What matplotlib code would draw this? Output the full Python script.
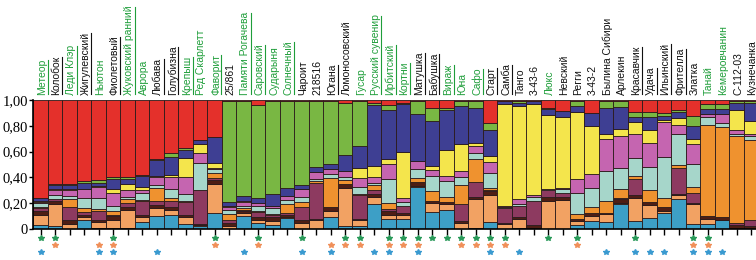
import matplotlib
matplotlib.use("Agg")
import matplotlib.pyplot as plt
import numpy as np
from matplotlib import font_manager
from matplotlib.lines import Line2D

names = ["Метеор", "Колобок", "Леди Клэр", "Жигулевский", "Ньютон", "Фиолетовый",
         "Жуковский ранний", "Аврора", "Любава", "Голубизна", "Крепыш", "Ред Скарлетт",
         "Фаворит", "25/861", "Памяти Рогачева", "Саровский", "Сударыня", "Солнечный",
         "Чароит", "218516", "Югана", "Ломоносовский", "Гусар", "Русский сувенир",
         "Ирбитский", "Кортни", "Матушка", "Бабушка", "Вираж", "Юна", "Сафо", "Старт",
         "Самба", "Танго", "3-43-6", "Люкс", "Невский", "Регги", "3-43-2",
         "Былина Сибири", "Арлекин", "Красавчик", "Удача", "Ильинский", "Фрителла",
         "Златка", "Танай", "Кемеровчанин", "С-112-03", "Кузнечанка"]

# 1 = green label
green_label = [1, 0, 1, 0, 1, 0, 1, 1, 0, 0, 1, 1, 1, 0, 1, 1, 1, 1, 0, 0,
               0, 0, 1, 1, 1, 1, 0, 0, 1, 1, 1, 0, 0, 0, 0, 1, 0, 0, 0, 0,
               0, 0, 0, 0, 0, 0, 1, 1, 0, 0]
underlined = [1, 1, 1, 1, 0, 1, 1, 0, 1, 1, 1, 0, 1, 0, 1, 1, 0, 1, 0, 0,
              1, 0, 0, 1, 1, 1, 1, 1, 1, 0, 1, 1, 1, 0, 0, 0, 0, 0, 0, 0,
              0, 1, 1, 1, 1, 0, 0, 0, 0, 1]

# cluster memberships (bottom to top)
teal = [.03, .02, 0, .07, .01, .01, .01, .05, .10, .11, .04, .02, .12, 0, .10, .05, .03, .08, 0, 0,
        .09, .02, .02, .19, .08, .08, .32, .13, .15, 0, .01, .05, 0, .01, 0, 0, 0, .03, .06, .05,
        .19, .06, .08, .12, .23, .04, .04, .07, 0, 0]
salmon = [.08, .17, .04, .02, .04, .06, .14, .04, .06, .04, .05, .01, .22, .02, .02, .02, .03, .01, .05, .07,
          .05, .30, .05, .06, .03, .03, .01, .07, .04, .05, .22, .20, .04, .07, .01, .22, .22, .03, .04, .06,
          .01, .18, .10, .02, .03, .15, .04, 0, 0, 0]
brown = [.03, .03, .03, .02, .02, .03, .02, .02, .02, .02, .02, .01, .03, .03, .02, .02, .03, .02, .02, .01,
         .03, .03, .01, .02, .03, .01, .03, .01, .02, .01, .01, .03, .01, .01, .02, .03, .02, .02, .02, .01,
         .03, .02, .02, .03, .01, .01, .02, .02, .03, .02]
maroon = [.02, .01, .10, .02, .07, .01, .03, .10, .03, .05, .10, .26, .01, .02, .01, .04, .02, .01, .10, .28,
          0, 0, .18, .03, .01, .06, 0, 0, 0, .13, .12, .01, .11, .09, .19, .05, .03, 0, 0, 0,
          .01, .13, 0, 0, .20, .08, 0, 0, .02, .05]
orange = [.01, 0, .06, .03, .01, .03, .03, .01, .10, .02, .01, 0, .04, .05, .01, .01, .01, .07, .04, .01,
          .22, .03, .01, .04, .05, 0, .03, .08, .04, .15, .17, .01, 0, 0, 0, 0, 0, .04, .05, .09,
          .07, .02, .09, .07, .03, .04, .70, .70, .67, .62]
cyan = [.03, .03, .02, .08, .09, .04, .02, .05, .02, .07, .05, .21, .03, .03, .02, .04, .04, .03, .04, .02,
        .03, .02, .05, .02, .18, .03, .07, .11, .12, .06, .05, .11, .01, .01, .03, .01, .03, .16, .14, .22,
        .16, .14, .17, .31, .24, .18, .06, .03, .02, .03]
pink = [.01, .04, .05, .07, .08, .10, .05, .03, .06, .09, .13, .07, .01, .02, .03, .02, .02, .03, .06, .05,
        .04, .05, .07, .04, .12, .03, .06, .05, .04, .05, .05, .08, .01, .04, .01, 0, .01, .11, .11, .24,
        .24, .19, .18, .27, .07, .15, .02, .07, .03, .02]
yellow = [.005, .01, .005, 0, .005, .03, .05, .02, .01, .02, .15, .07, .04, .01, .005, .005, 0, 0, 0, 0,
          0, 0, .08, .09, .04, .35, 0, .03, .20, .21, .02, .05, .79, .72, .71, .57, .53, .52, .36, .04,
          .06, .09, .10, .02, .05, .04, 0, 0, .15, .10]
navy = [.025, .03, .03, .05, .03, .08, .04, .08, .12, .14, .06, .03, .19, .03, .04, .04, .09, .06, .03, .04,
        .04, .12, .17, .47, .37, .37, .36, .34, .31, .29, .27, .19, .02, .03, .02, .05, .05, .04, .10, .19,
        .17, .04, .09, .03, .05, .10, .04, .04, .06, .14]
green = [.005, .005, .005, .01, .02, .01, .01, .01, .01, .03, .02, 0, 0, .78, .73, .72, .72, .66, .65, .51,
         .48, .41, .34, .02, .04, .01, .10, .10, .02, .04, .05, .05, 0, .01, 0, .01, 0, .04, 0, .05,
         .04, .04, .04, .02, .01, .08, .04, .04, .01, .01]
red = [.76, .655, .64, .63, .61, .60, .60, .57, .44, .41, .37, .31, .28, .01, .01, .04, .01, .01, .01, .01,
       .01, .02, .01, .02, .04, .02, .01, .06, .06, .01, .01, .17, .01, .01, .01, .06, .08, .01, .10, .01,
       .01, .09, .09, .10, .08, .12, .03, .03, .01, .01]

clusters = [teal, salmon, brown, maroon, orange, cyan, pink, yellow, navy, green, red]
colors = ["#3d9fc6", "#f2a263", "#4e1e14", "#8d3a60", "#ef922f", "#a6d6ca",
          "#c565b0", "#f4e54c", "#3e3f93", "#79b743", "#e4302b"]

green_star = [0, 1, 5, 12, 15, 18, 21, 22, 24, 25, 26, 27, 28, 29, 30, 31, 32, 35, 37, 41, 45, 46]
orange_star = [1, 4, 5, 12, 15, 20, 21, 22, 24, 25, 26, 29, 30, 31, 32, 37, 45, 46]
blue_star = [0, 4, 5, 8, 14, 18, 20, 23, 24, 26, 31, 33, 39, 41, 42, 43, 45, 46, 47]

ytick_vals = [0, 0.2, 0.4, 0.6, 0.8, 1.0]
ytick_text = ["0", "0,20", "0,40", "0,60", "0,80", "1,00"]

available = {f.name for f in font_manager.fontManager.ttflist}
label_font = "Liberation Sans Narrow" if "Liberation Sans Narrow" in available else "Liberation Sans"

W, H = 756, 260
fig = plt.figure(figsize=(W / 100, H / 100), dpi=100)
ax = fig.add_axes([33.3 / W, 31 / H, 725 / W, 129 / H])

data = np.array(clusters, dtype=float)
data = data / data.sum(axis=0)
x = np.arange(len(names))
bottom = np.zeros(len(names))
for vals, c in zip(data, colors):
    ax.bar(x, vals, bottom=bottom, width=1.0, color=c, edgecolor="#2a1a1a", linewidth=0.6)
    bottom += vals

ax.set_xlim(-0.5, len(names) - 0.5)
ax.set_ylim(0, 1)
ax.set_xticks(x)
ax.set_xticklabels([])
ax.set_yticks(ytick_vals)
ax.set_yticklabels(ytick_text, family="Liberation Serif", fontsize=10.5)
ax.tick_params(axis="x", direction="out", length=4, width=1)
ax.tick_params(axis="y", direction="out", length=3, width=1, pad=1)
for s in ["top", "right"]:
    ax.spines[s].set_visible(False)
ax.spines["left"].set_linewidth(1.2)
ax.spines["bottom"].set_linewidth(1.2)

texts = []
for i, n in enumerate(names):
    col = "#1f9e3a" if green_label[i] else "#111111"
    t = ax.text(i + 0.1, 1.035, n, rotation=90, ha="center", va="bottom",
                fontsize=7.5, color=col, family=label_font)
    texts.append(t)

ax.plot(green_star, [-0.07] * len(green_star), ls="none", marker="*", ms=4,
        color="#2a9a5a", clip_on=False)
ax.plot(orange_star, [-0.125] * len(orange_star), ls="none", marker="*", ms=4,
        color="#f0905a", clip_on=False)
ax.plot(blue_star, [-0.18] * len(blue_star), ls="none", marker="*", ms=4,
        color="#3a9ad0", clip_on=False)

fig.canvas.draw()
r = fig.canvas.get_renderer()
for t, u in zip(texts, underlined):
    if u:
        bb = t.get_window_extent(r)
        xx = (bb.x1 + 0.5) / W
        fig.add_artist(Line2D([xx, xx], [(bb.y0 + 1) / H, (bb.y1 - 1) / H],
                              color=t.get_color(), lw=0.8))

fig.savefig("out.png", dpi=100)
